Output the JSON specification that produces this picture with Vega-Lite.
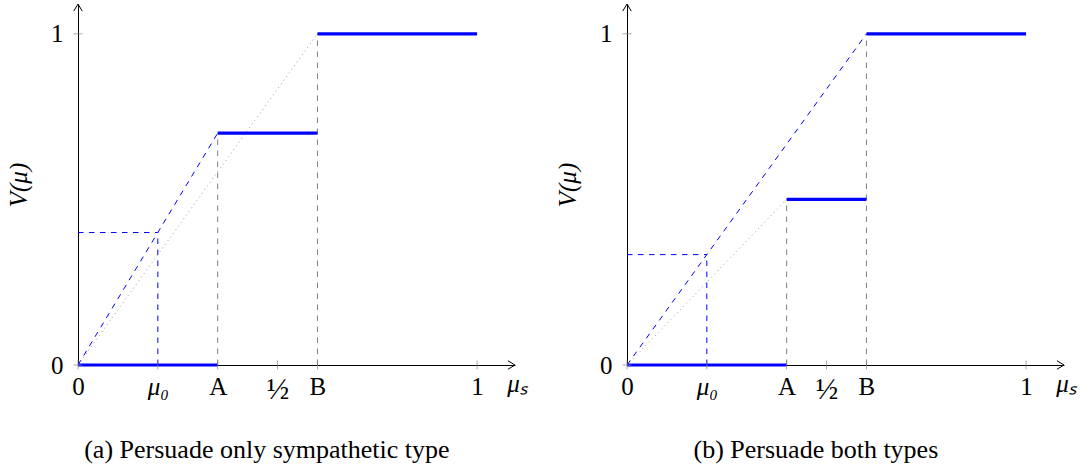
{
  "$schema": "https://vega.github.io/schema/vega-lite/v6.json",
  "background": "white",
  "padding": {"left": 6, "top": 2, "right": 5, "bottom": 5},
  "bounds": "flush",
  "spacing": 112,
  "config": {"font": "Liberation Serif", "view": {"stroke": null}, "axis": {"grid": false}},
  "datasets": {
    "a": [
      {"s": "dot", "x": 0, "y": 0, "x2": 0.6, "y2": 1},
      {"s": "dashgray", "x": 0.35, "y": 0, "x2": 0.35, "y2": 0.7},
      {"s": "dashgray", "x": 0.6, "y": 0, "x2": 0.6, "y2": 1},
      {"s": "dashblue", "x": 0, "y": 0, "x2": 0.35, "y2": 0.7},
      {"s": "dashblue", "x": 0, "y": 0.4, "x2": 0.2, "y2": 0.4},
      {"s": "dashblue", "x": 0.2, "y": 0, "x2": 0.2, "y2": 0.4},
      {"s": "solid", "x": 0, "y": 0, "x2": 0.35, "y2": 0},
      {"s": "solid", "x": 0.35, "y": 0.7, "x2": 0.6, "y2": 0.7},
      {"s": "solid", "x": 0.6, "y": 1, "x2": 1, "y2": 1},
      {"s": "xtick", "x": 0, "y": 0},
      {"s": "xtick", "x": 0.2, "y": 0},
      {"s": "xtick", "x": 0.35, "y": 0},
      {"s": "xtick", "x": 0.5, "y": 0},
      {"s": "xtick", "x": 0.6, "y": 0},
      {"s": "xtick", "x": 1, "y": 0},
      {"s": "ytick", "x": 0, "y": 0},
      {"s": "ytick", "x": 0, "y": 1},
      {"s": "arrowx", "x": 1.095, "y": 0},
      {"s": "arrowy", "x": 0, "y": 1.09}
    ],
    "b": [
      {"s": "dot", "x": 0, "y": 0, "x2": 0.4, "y2": 0.5},
      {"s": "dashgray", "x": 0.4, "y": 0, "x2": 0.4, "y2": 0.5},
      {"s": "dashgray", "x": 0.6, "y": 0, "x2": 0.6, "y2": 1},
      {"s": "dashblue", "x": 0, "y": 0, "x2": 0.6, "y2": 1},
      {"s": "dashblue", "x": 0, "y": 0.3333, "x2": 0.2, "y2": 0.3333},
      {"s": "dashblue", "x": 0.2, "y": 0, "x2": 0.2, "y2": 0.3333},
      {"s": "solid", "x": 0, "y": 0, "x2": 0.4, "y2": 0},
      {"s": "solid", "x": 0.4, "y": 0.5, "x2": 0.6, "y2": 0.5},
      {"s": "solid", "x": 0.6, "y": 1, "x2": 1, "y2": 1},
      {"s": "xtick", "x": 0, "y": 0},
      {"s": "xtick", "x": 0.2, "y": 0},
      {"s": "xtick", "x": 0.4, "y": 0},
      {"s": "xtick", "x": 0.5, "y": 0},
      {"s": "xtick", "x": 0.6, "y": 0},
      {"s": "xtick", "x": 1, "y": 0},
      {"s": "ytick", "x": 0, "y": 0},
      {"s": "ytick", "x": 0, "y": 1},
      {"s": "arrowx", "x": 1.095, "y": 0},
      {"s": "arrowy", "x": 0, "y": 1.09}
    ]
  },
  "hconcat": [
    {
      "width": 437,
      "height": 361,
      "data": {"name": "a"},
      "title": {"text": "(a) Persuade only sympathetic type", "orient": "bottom", "frame": "bounds", "anchor": "middle", "fontSize": 26, "fontWeight": "normal", "offset": 33, "font": "Liberation Serif", "color": "black"},
      "encoding": {
        "x": {"field": "x", "type": "quantitative", "scale": {"domain": [0, 1.095], "nice": false, "zero": false},
          "axis": {"values": [0, 0.2, 0.35, 0.5, 0.6, 1], "labelExpr": "datum.value == 0 ? '0' : datum.value == 0.2 ? 'μ₀' : datum.value == 0.35 ? 'A' : datum.value == 0.5 ? '½' : datum.value == 0.6 ? 'B' : '1'", "ticks": false, "domainColor": "black", "domainWidth": 1, "labelFontSize": {"condition": {"test": "datum.value == 0.5", "value": 30}, "value": 25}, "labelFontStyle": {"condition": {"test": "datum.value == 0.2", "value": "italic"}, "value": "normal"}, "labelPadding": 9, "labelColor": "black", "labelFlush": false, "labelOverlap": false, "title": "μₛ", "titleFontStyle": "italic", "titleFontWeight": "normal", "titleFontSize": 25, "titleColor": "black", "titleX": 439, "titleY": 26, "titleAlign": "center", "titleBaseline": "alphabetic"}},
        "y": {"field": "y", "type": "quantitative", "scale": {"domain": [0, 1.09], "nice": false},
          "axis": {"values": [0, 1], "labelExpr": "datum.value == 0 ? '0' : '1'", "ticks": false, "domainColor": "black", "domainWidth": 1, "labelFontSize": 25, "labelPadding": 15, "labelColor": "black", "labelFlush": false, "title": "V(μ)", "titleFontStyle": "italic", "titleFontWeight": "normal", "titleFontSize": 25, "titleColor": "black", "titlePadding": 19}}
      },
      "layer": [
        {"transform": [{"filter": "datum.s == 'dot'"}], "mark": {"type": "rule", "color": "#9a9a9a", "strokeWidth": 1, "strokeDash": [1, 3.5]}, "encoding": {"x2": {"field": "x2"}, "y2": {"field": "y2"}}},
        {"transform": [{"filter": "datum.s == 'dashgray'"}], "mark": {"type": "rule", "color": "#808080", "strokeWidth": 1, "strokeDash": [5.5, 5.5]}, "encoding": {"x2": {"field": "x2"}, "y2": {"field": "y2"}}},
        {"transform": [{"filter": "datum.s == 'dashblue'"}], "mark": {"type": "rule", "color": "#0000ff", "strokeWidth": 1, "strokeDash": [5.5, 5.5]}, "encoding": {"x2": {"field": "x2"}, "y2": {"field": "y2"}}},
        {"transform": [{"filter": "datum.s == 'solid'"}], "mark": {"type": "rule", "color": "#0000ff", "strokeWidth": 3.2}, "encoding": {"x2": {"field": "x2"}, "y2": {"field": "y2"}}},
        {"transform": [{"filter": "datum.s == 'xtick'"}], "mark": {"type": "tick", "orient": "vertical", "color": "#888888", "size": 9, "thickness": 1}},
        {"transform": [{"filter": "datum.s == 'ytick'"}], "mark": {"type": "tick", "orient": "horizontal", "color": "#888888", "size": 9, "thickness": 1}},
        {"transform": [{"filter": "datum.s == 'arrowx'"}], "mark": {"type": "point", "shape": "M-1,-0.6L0,0L-1,0.6", "filled": false, "stroke": "black", "strokeWidth": 1, "size": 200, "opacity": 1}},
        {"transform": [{"filter": "datum.s == 'arrowy'"}], "mark": {"type": "point", "shape": "M-0.6,1L0,0L0.6,1", "filled": false, "stroke": "black", "strokeWidth": 1, "size": 200, "opacity": 1}}
      ]
    },
    {
      "width": 437,
      "height": 361,
      "data": {"name": "b"},
      "title": {"text": "(b) Persuade both types", "orient": "bottom", "frame": "bounds", "anchor": "middle", "fontSize": 26, "fontWeight": "normal", "offset": 33, "font": "Liberation Serif", "color": "black"},
      "encoding": {
        "x": {"field": "x", "type": "quantitative", "scale": {"domain": [0, 1.095], "nice": false, "zero": false},
          "axis": {"values": [0, 0.2, 0.4, 0.5, 0.6, 1], "labelExpr": "datum.value == 0 ? '0' : datum.value == 0.2 ? 'μ₀' : datum.value == 0.4 ? 'A' : datum.value == 0.5 ? '½' : datum.value == 0.6 ? 'B' : '1'", "ticks": false, "domainColor": "black", "domainWidth": 1, "labelFontSize": {"condition": {"test": "datum.value == 0.5", "value": 30}, "value": 25}, "labelFontStyle": {"condition": {"test": "datum.value == 0.2", "value": "italic"}, "value": "normal"}, "labelPadding": 9, "labelColor": "black", "labelFlush": false, "labelOverlap": false, "title": "μₛ", "titleFontStyle": "italic", "titleFontWeight": "normal", "titleFontSize": 25, "titleColor": "black", "titleX": 439, "titleY": 26, "titleAlign": "center", "titleBaseline": "alphabetic"}},
        "y": {"field": "y", "type": "quantitative", "scale": {"domain": [0, 1.09], "nice": false},
          "axis": {"values": [0, 1], "labelExpr": "datum.value == 0 ? '0' : '1'", "ticks": false, "domainColor": "black", "domainWidth": 1, "labelFontSize": 25, "labelPadding": 15, "labelColor": "black", "labelFlush": false, "title": "V(μ)", "titleFontStyle": "italic", "titleFontWeight": "normal", "titleFontSize": 25, "titleColor": "black", "titlePadding": 19}}
      },
      "layer": [
        {"transform": [{"filter": "datum.s == 'dot'"}], "mark": {"type": "rule", "color": "#9a9a9a", "strokeWidth": 1, "strokeDash": [1, 3.5]}, "encoding": {"x2": {"field": "x2"}, "y2": {"field": "y2"}}},
        {"transform": [{"filter": "datum.s == 'dashgray'"}], "mark": {"type": "rule", "color": "#808080", "strokeWidth": 1, "strokeDash": [5.5, 5.5]}, "encoding": {"x2": {"field": "x2"}, "y2": {"field": "y2"}}},
        {"transform": [{"filter": "datum.s == 'dashblue'"}], "mark": {"type": "rule", "color": "#0000ff", "strokeWidth": 1, "strokeDash": [5.5, 5.5]}, "encoding": {"x2": {"field": "x2"}, "y2": {"field": "y2"}}},
        {"transform": [{"filter": "datum.s == 'solid'"}], "mark": {"type": "rule", "color": "#0000ff", "strokeWidth": 3.2}, "encoding": {"x2": {"field": "x2"}, "y2": {"field": "y2"}}},
        {"transform": [{"filter": "datum.s == 'xtick'"}], "mark": {"type": "tick", "orient": "vertical", "color": "#888888", "size": 9, "thickness": 1}},
        {"transform": [{"filter": "datum.s == 'ytick'"}], "mark": {"type": "tick", "orient": "horizontal", "color": "#888888", "size": 9, "thickness": 1}},
        {"transform": [{"filter": "datum.s == 'arrowx'"}], "mark": {"type": "point", "shape": "M-1,-0.6L0,0L-1,0.6", "filled": false, "stroke": "black", "strokeWidth": 1, "size": 200, "opacity": 1}},
        {"transform": [{"filter": "datum.s == 'arrowy'"}], "mark": {"type": "point", "shape": "M-0.6,1L0,0L0.6,1", "filled": false, "stroke": "black", "strokeWidth": 1, "size": 200, "opacity": 1}}
      ]
    }
  ]
}
